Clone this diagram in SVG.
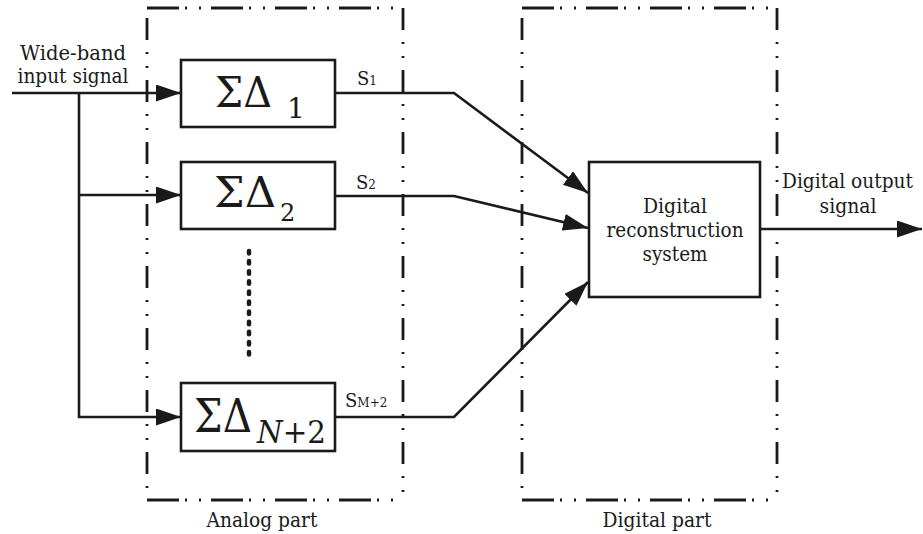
<svg xmlns="http://www.w3.org/2000/svg" width="923" height="534" viewBox="0 0 923 534">
<style>
text{fill:#1a1a1a}
.lbl{font-size:21px}
.box{fill:#fff;stroke:#1a1a1a;stroke-width:2.6}
.wire{fill:none;stroke:#1a1a1a;stroke-width:2.6}
.dh{fill:none;stroke:#1a1a1a;stroke-width:2.8;stroke-dasharray:32 6 2 12 2 10}
.dv{fill:none;stroke:#1a1a1a;stroke-width:2.8;stroke-dasharray:22 12 2 12 2 12}
.sd{font-size:43px}
</style>
<defs>
<marker id="ah" markerUnits="userSpaceOnUse" markerWidth="26" markerHeight="18" refX="25" refY="8.5" orient="auto">
<path d="M0,0 L25,8.5 L0,17 Z" fill="#1a1a1a"/>
</marker>
</defs>
<g font-family="DejaVu Serif, Liberation Serif, serif">
<g id="analog-part">
<line class="dh" x1="147" y1="8" x2="403" y2="8"/>
<line class="dv" x1="147" y1="18" x2="147" y2="500"/>
<line class="dv" x1="403" y1="8" x2="403" y2="500"/>
<line class="dh" x1="147" y1="500" x2="403" y2="500"/>
<text class="lbl" x="262" y="527" text-anchor="middle" textLength="111" lengthAdjust="spacingAndGlyphs">Analog part</text>
</g>

<g id="digital-part">
<line class="dh" x1="522" y1="8" x2="777" y2="8"/>
<line class="dv" x1="522" y1="18" x2="522" y2="500"/>
<line class="dv" x1="777" y1="8" x2="777" y2="500"/>
<line class="dh" x1="522" y1="500" x2="777" y2="500"/>
<text class="lbl" x="657" y="527" text-anchor="middle" textLength="109" lengthAdjust="spacingAndGlyphs">Digital part</text>
</g>

<g id="input-label">
<text class="lbl" x="73" y="60" text-anchor="middle" textLength="106" lengthAdjust="spacingAndGlyphs">Wide-band</text>
<text class="lbl" x="73" y="83" text-anchor="middle" textLength="111" lengthAdjust="spacingAndGlyphs">input signal</text>
</g>

<g id="sd1">
<rect class="box" x="181" y="60" width="154" height="67"/>
<text class="sd" x="215" y="107" textLength="57" lengthAdjust="spacingAndGlyphs">ΣΔ</text>
<text x="287" y="118" font-size="28">1</text>
</g>

<g id="sd2">
<rect class="box" x="181" y="162" width="154" height="67"/>
<text class="sd" x="214" y="207" textLength="62" lengthAdjust="spacingAndGlyphs">ΣΔ</text>
<text x="280" y="221" font-size="24">2</text>
</g>

<g id="sdN">
<rect class="box" x="181" y="383" width="154" height="68"/>
<text x="194" y="432" font-size="46" textLength="58" lengthAdjust="spacingAndGlyphs">ΣΔ</text>
<text x="257" y="443" font-size="32" textLength="69" lengthAdjust="spacingAndGlyphs"><tspan font-style="italic">N</tspan>+2</text>
</g>

<g id="ellipsis">
<line x1="249" y1="251" x2="249" y2="358" stroke="#1a1a1a" stroke-width="4.5" stroke-linecap="round" stroke-dasharray="2.5 7.6"/>
</g>

<g id="reconstruction">
<rect class="box" x="589" y="162" width="171" height="135"/>
<text class="lbl" x="675" y="213" text-anchor="middle" textLength="64" lengthAdjust="spacingAndGlyphs">Digital</text>
<text class="lbl" x="675" y="237" text-anchor="middle" textLength="137" lengthAdjust="spacingAndGlyphs">reconstruction</text>
<text class="lbl" x="675" y="261" text-anchor="middle" textLength="65" lengthAdjust="spacingAndGlyphs">system</text>
</g>

<g id="output-label">
<text x="782" y="188" font-size="20" textLength="131" lengthAdjust="spacingAndGlyphs">Digital output</text>
<text class="lbl" x="848" y="213" text-anchor="middle" textLength="57" lengthAdjust="spacingAndGlyphs">signal</text>
</g>

<g id="connectors">
<line class="wire" x1="12" y1="93" x2="181" y2="93" marker-end="url(#ah)"/>
<polyline class="wire" points="79,93 79,417 181,417" marker-end="url(#ah)"/>
<line class="wire" x1="79" y1="195" x2="181" y2="195" marker-end="url(#ah)"/>
<polyline class="wire" points="335,93 454,93 588,193" marker-end="url(#ah)"/>
<polyline class="wire" points="335,196 454,196 588,228" marker-end="url(#ah)"/>
<polyline class="wire" points="335,417 454,417 588,282" marker-end="url(#ah)"/>
<line class="wire" x1="760" y1="229" x2="922" y2="229" marker-end="url(#ah)"/>
<text x="357" y="85" font-size="18">S<tspan font-size="12">1</tspan></text>
<text x="356" y="189" font-size="18">S<tspan font-size="12">2</tspan></text>
<text x="345" y="407" font-size="18">S<tspan font-size="12">M+2</tspan></text>
</g>
</g>
</svg>
